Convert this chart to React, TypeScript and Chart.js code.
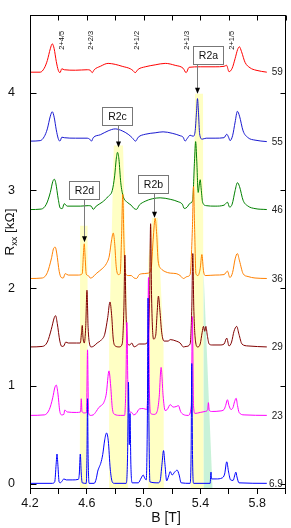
import React, { useEffect, useRef } from "react";
import { Chart, registerables } from "chart.js";

Chart.register(...registerables);

type P = [number, number];

// ---- axes ----
const xTicks = [4.2, 4.4, 4.6, 4.8, 5.0, 5.2, 5.4, 5.6, 5.8, 6.0];
const xLabels = [4.2, 4.6, 5.0, 5.4, 5.8];
const yTicks = [0, 1, 2, 3, 4];
const xMin = 4.2;
const xMax = 6.0;
const yMin = -0.053;
const yMax = 4.8;

// ---- series (B [T], Rxx [kOhm] incl. vertical offset) ----
const seriesNames = ["6.9", "23", "29", "36", "46", "55", "59"];
const seriesColors = ["#0000ff", "#ff00ff", "#800000", "#ff8000", "#008000", "#1a1ad0", "#ff0000"];

const trace59: P[] = [
  [4.2, 4.21], [4.272, 4.21], [4.3, 4.25], [4.322, 4.33], [4.343, 4.45], [4.357, 4.5], [4.37, 4.45],
  [4.385, 4.32], [4.399, 4.23], [4.411, 4.205], [4.424, 4.245], [4.441, 4.235], [4.52, 4.23],
  [4.603, 4.235], [4.624, 4.23], [4.638, 4.205], [4.652, 4.235], [4.695, 4.27], [4.75, 4.3],
  [4.8, 4.29], [4.849, 4.27], [4.906, 4.245], [4.926, 4.225], [4.94, 4.205], [4.962, 4.24],
  [5.011, 4.265], [5.081, 4.285], [5.152, 4.3], [5.222, 4.28], [5.278, 4.25], [5.299, 4.205],
  [5.32, 4.26], [5.398, 4.265], [5.503, 4.265], [5.566, 4.27], [5.584, 4.28], [5.601, 4.215],
  [5.623, 4.25], [5.644, 4.35], [5.661, 4.44], [5.674, 4.47], [5.689, 4.42], [5.714, 4.31],
  [5.749, 4.255], [5.791, 4.23], [5.867, 4.21],
];

const trace55: P[] = [
  [4.2, 3.505], [4.272, 3.51], [4.3, 3.55], [4.322, 3.63], [4.343, 3.76], [4.357, 3.805], [4.37, 3.75],
  [4.385, 3.62], [4.399, 3.53], [4.411, 3.505], [4.424, 3.545], [4.441, 3.54], [4.52, 3.535],
  [4.603, 3.535], [4.62, 3.525], [4.633, 3.505], [4.645, 3.54], [4.695, 3.57], [4.75, 3.61],
  [4.8, 3.63], [4.849, 3.61], [4.891, 3.575], [4.919, 3.54], [4.943, 3.505], [4.962, 3.545],
  [5.011, 3.575], [5.081, 3.59], [5.137, 3.6], [5.201, 3.585], [5.257, 3.56], [5.278, 3.545],
  [5.292, 3.505], [5.306, 3.53], [5.327, 3.565], [5.348, 3.555], [5.362, 3.6], [5.372, 3.8],
  [5.379, 3.94], [5.386, 3.8], [5.394, 3.58], [5.412, 3.525], [5.44, 3.535], [5.503, 3.535],
  [5.566, 3.54], [5.585, 3.575], [5.598, 3.545], [5.608, 3.51], [5.626, 3.56], [5.644, 3.7],
  [5.66, 3.81], [5.675, 3.76], [5.7, 3.61], [5.735, 3.54], [5.784, 3.515], [5.867, 3.5],
];

const trace46: P[] = [
  [4.2, 2.805], [4.279, 2.81], [4.315, 2.86], [4.343, 2.98], [4.36, 3.09], [4.371, 3.115], [4.381, 3.08],
  [4.399, 2.91], [4.413, 2.82], [4.427, 2.815], [4.441, 2.865], [4.462, 2.84], [4.554, 2.84],
  [4.61, 2.845], [4.631, 2.84], [4.645, 2.807], [4.666, 2.84], [4.708, 2.88], [4.751, 2.94],
  [4.779, 3.0], [4.796, 3.15], [4.807, 3.32], [4.816, 3.39], [4.826, 3.32], [4.839, 3.08],
  [4.856, 2.94], [4.884, 2.88], [4.912, 2.85], [4.933, 2.815], [4.95, 2.807], [4.969, 2.85],
  [5.011, 2.89], [5.06, 2.915], [5.116, 2.925], [5.187, 2.91], [5.243, 2.885], [5.272, 2.86],
  [5.287, 2.815], [5.306, 2.83], [5.327, 2.87], [5.345, 2.9], [5.358, 3.3], [5.366, 3.5],
  [5.374, 3.3], [5.384, 2.98], [5.391, 3.05], [5.398, 3.11], [5.406, 3.0], [5.415, 2.88],
  [5.44, 2.845], [5.503, 2.84], [5.566, 2.85], [5.59, 2.88], [5.605, 2.83], [5.623, 2.86],
  [5.644, 3.0], [5.66, 3.08], [5.675, 3.04], [5.7, 2.9], [5.735, 2.84], [5.784, 2.815], [5.867, 2.805],
];

const trace36: P[] = [
  [4.2, 2.1], [4.286, 2.105], [4.322, 2.16], [4.35, 2.3], [4.367, 2.41], [4.378, 2.42], [4.388, 2.36],
  [4.406, 2.17], [4.42, 2.11], [4.434, 2.105], [4.448, 2.15], [4.469, 2.135], [4.54, 2.135],
  [4.568, 2.15], [4.576, 2.35], [4.582, 2.455], [4.587, 2.35], [4.596, 2.145], [4.61, 2.13],
  [4.624, 2.105], [4.638, 2.11], [4.666, 2.15], [4.708, 2.2], [4.737, 2.25], [4.758, 2.33],
  [4.775, 2.5], [4.786, 2.565], [4.796, 2.46], [4.807, 2.22], [4.821, 2.14], [4.835, 2.15],
  [4.844, 2.5], [4.853, 2.96], [4.861, 2.5], [4.87, 2.16], [4.891, 2.13], [4.912, 2.13],
  [4.933, 2.105], [4.95, 2.1], [4.969, 2.14], [5.004, 2.15], [5.033, 2.155], [5.053, 2.2],
  [5.067, 2.5], [5.081, 2.715], [5.092, 2.55], [5.102, 2.28], [5.123, 2.2], [5.151, 2.17],
  [5.187, 2.155], [5.229, 2.15], [5.257, 2.13], [5.28, 2.1], [5.306, 2.12], [5.327, 2.14],
  [5.343, 2.6], [5.351, 3.04], [5.359, 2.6], [5.368, 2.15], [5.382, 2.13], [5.398, 2.2],
  [5.41, 2.345], [5.421, 2.18], [5.433, 2.13], [5.503, 2.135], [5.566, 2.14], [5.59, 2.175],
  [5.607, 2.11], [5.626, 2.16], [5.644, 2.3], [5.66, 2.355], [5.675, 2.28], [5.7, 2.15],
  [5.735, 2.12], [5.784, 2.105], [5.867, 2.1],
];

const trace29: P[] = [
  [4.2, 1.4], [4.286, 1.405], [4.322, 1.45], [4.35, 1.58], [4.371, 1.7], [4.38, 1.72], [4.392, 1.64],
  [4.41, 1.46], [4.424, 1.405], [4.438, 1.41], [4.452, 1.45], [4.469, 1.44], [4.526, 1.44],
  [4.554, 1.44], [4.563, 1.55], [4.568, 1.62], [4.573, 1.5], [4.582, 1.44], [4.592, 1.6],
  [4.601, 1.98], [4.609, 1.6], [4.621, 1.42], [4.631, 1.4], [4.645, 1.405], [4.673, 1.44],
  [4.701, 1.47], [4.726, 1.53], [4.747, 1.7], [4.763, 1.86], [4.775, 1.72], [4.786, 1.48],
  [4.8, 1.41], [4.828, 1.4], [4.849, 1.43], [4.861, 1.8], [4.868, 2.34], [4.875, 1.8],
  [4.888, 1.43], [4.902, 1.42], [4.916, 1.44], [4.933, 1.4], [4.948, 1.41], [4.969, 1.43],
  [5.004, 1.43], [5.028, 1.45], [5.042, 1.9], [5.049, 2.66], [5.056, 1.9], [5.07, 1.48],
  [5.085, 1.52], [5.095, 1.75], [5.104, 1.92], [5.114, 1.78], [5.127, 1.55], [5.144, 1.46],
  [5.173, 1.46], [5.187, 1.475], [5.229, 1.46], [5.257, 1.44], [5.28, 1.4], [5.299, 1.405],
  [5.327, 1.43], [5.339, 1.8], [5.346, 2.355], [5.353, 1.8], [5.365, 1.46], [5.38, 1.4],
  [5.398, 1.43], [5.412, 1.55], [5.421, 1.61], [5.43, 1.56], [5.438, 1.61], [5.448, 1.52],
  [5.461, 1.43], [5.482, 1.42], [5.538, 1.42], [5.566, 1.43], [5.585, 1.49], [5.601, 1.41],
  [5.619, 1.45], [5.636, 1.56], [5.655, 1.61], [5.671, 1.53], [5.692, 1.43], [5.735, 1.41],
  [5.867, 1.4],
];

const trace23: P[] = [
  [4.2, 0.7], [4.301, 0.705], [4.336, 0.76], [4.36, 0.88], [4.374, 0.98], [4.385, 1.01], [4.396, 0.93],
  [4.41, 0.74], [4.424, 0.705], [4.438, 0.71], [4.445, 0.755], [4.462, 0.735], [4.526, 0.73],
  [4.556, 0.735], [4.561, 0.87], [4.566, 0.74], [4.582, 0.725], [4.598, 0.73], [4.605, 1.37],
  [4.612, 0.73], [4.624, 0.7], [4.645, 0.705], [4.666, 0.74], [4.684, 0.78], [4.701, 0.8],
  [4.719, 0.83], [4.737, 0.92], [4.756, 1.155], [4.768, 1.0], [4.779, 0.78], [4.796, 0.71],
  [4.835, 0.7], [4.866, 0.7], [4.875, 1.0], [4.882, 1.65], [4.889, 1.0], [4.898, 0.75],
  [4.916, 0.73], [4.93, 0.705], [4.948, 0.72], [4.969, 0.765], [4.997, 0.77], [5.021, 0.76],
  [5.028, 0.9], [5.034, 2.11], [5.04, 1.0], [5.05, 0.72], [5.074, 0.71], [5.095, 0.74],
  [5.109, 0.88], [5.123, 1.19], [5.137, 0.9], [5.151, 0.75], [5.166, 0.76], [5.187, 0.81],
  [5.208, 0.785], [5.229, 0.79], [5.245, 0.8], [5.26, 0.74], [5.278, 0.71], [5.313, 0.7],
  [5.336, 0.8], [5.343, 1.71], [5.351, 0.8], [5.362, 0.72], [5.398, 0.73], [5.433, 0.74],
  [5.451, 0.76], [5.456, 0.83], [5.462, 0.75], [5.482, 0.74], [5.538, 0.745], [5.566, 0.76],
  [5.577, 0.8], [5.59, 0.86], [5.601, 0.8], [5.615, 0.76], [5.629, 0.78], [5.64, 0.84],
  [5.651, 0.875], [5.661, 0.8], [5.672, 0.73], [5.707, 0.705], [5.867, 0.7],
];

const trace69: P[] = [
  [4.2, 0.005], [4.357, 0.005], [4.374, 0.02], [4.384, 0.2], [4.39, 0.305], [4.396, 0.2], [4.405, 0.02],
  [4.413, 0.01], [4.427, 0.03], [4.438, 0.05], [4.455, 0.04], [4.497, 0.04], [4.54, 0.045],
  [4.547, 0.1], [4.554, 0.305], [4.561, 0.1], [4.568, 0.01], [4.596, 0.005], [4.601, 0.3],
  [4.605, 0.87], [4.609, 0.3], [4.616, 0.005], [4.652, 0.005], [4.666, 0.05], [4.677, 0.13],
  [4.687, 0.17], [4.698, 0.21], [4.712, 0.3], [4.726, 0.45], [4.739, 0.52], [4.751, 0.44],
  [4.765, 0.15], [4.779, 0.02], [4.793, 0.005], [4.877, 0.005], [4.887, 0.3], [4.893, 1.04],
  [4.899, 0.4], [4.904, 0.72], [4.91, 0.2], [4.919, 0.01], [4.962, 0.01], [4.983, 0.06],
  [4.997, 0.09], [5.007, 0.06], [5.018, 0.04], [5.027, 0.8], [5.031, 1.9], [5.036, 0.8],
  [5.044, 0.02], [5.102, 0.01], [5.116, 0.03], [5.129, 0.2], [5.14, 0.34], [5.15, 0.2],
  [5.162, 0.03], [5.176, 0.08], [5.187, 0.125], [5.201, 0.09], [5.218, 0.12], [5.236, 0.14],
  [5.25, 0.09], [5.264, 0.01], [5.327, 0.005], [5.334, 0.3], [5.339, 1.23], [5.344, 0.3],
  [5.352, 0.005], [5.468, 0.005], [5.474, 0.12], [5.478, 0.05], [5.51, 0.05], [5.552, 0.06],
  [5.57, 0.1], [5.585, 0.225], [5.598, 0.12], [5.612, 0.04], [5.63, 0.035], [5.64, 0.08],
  [5.649, 0.12], [5.657, 0.07], [5.671, 0.01], [5.867, 0.005],
];

const traces: P[][] = [trace69, trace23, trace29, trace36, trace46, trace55, trace59];

// ---- filling-factor labels ----
const nuLabels = ["2+4/5", "2+2/3", "2+1/2", "2+1/3", "2+1/5"];
const nuPositions = [4.423, 4.632, 4.956, 5.308, 5.62];
const nuLabelBaseR = 4.44;

// ---- shaded regions (polygons in data coords) ----
const yellowBands: P[][] = [
  [[4.553, 2.64], [4.605, 2.64], [4.605, -0.06], [4.551, -0.06]],
  [[4.79, 3.46], [4.855, 3.46], [4.889, 1.44], [4.889, -0.06], [4.757, -0.06], [4.757, 1.44]],
  [[5.06, 2.72], [5.1, 2.72], [5.14, 1.4], [5.142, -0.06], [5.033, -0.06], [5.033, 2.3]],
  [[5.362, 3.99], [5.418, 3.99], [5.421, -0.06], [5.33, -0.06]],
];
const greenBands: P[][] = [[[5.421, 2.2], [5.485, -0.06], [5.421, -0.06]]];

// ---- boxed annotations ----
const boxTexts = ["R2a", "R2b", "R2c", "R2d"];
const boxCenters: P[] = [[5.454, 4.39], [5.068, 3.065], [4.809, 3.757], [4.577, 3.002]];
const arrowX = [5.374, 5.074, 4.816, 4.582];
const arrowTipR = [3.99, 2.72, 3.44, 2.47];

const FONT = "'Liberation Sans', Arial, Helvetica, sans-serif";

export default function App() {
  const ref = useRef<HTMLCanvasElement | null>(null);

  useEffect(() => {
    const canvas = ref.current;
    if (!canvas) return;

    const decor = {
      id: "decor",
      beforeDatasetsDraw(chart: any) {
        const { ctx, chartArea: a, scales } = chart;
        const xs = scales.x, ys = scales.y;
        ctx.save();
        ctx.beginPath();
        ctx.rect(a.left, a.top, a.right - a.left, a.bottom - a.top);
        ctx.clip();
        const fillPoly = (poly: P[], color: string) => {
          ctx.beginPath();
          poly.forEach(([b, r], i) => {
            const px = xs.getPixelForValue(b), py = ys.getPixelForValue(r);
            if (i === 0) ctx.moveTo(px, py); else ctx.lineTo(px, py);
          });
          ctx.closePath();
          ctx.fillStyle = color;
          ctx.fill();
        };
        greenBands.forEach((p) => fillPoly(p, "#c8f2d8"));
        yellowBands.forEach((p) => fillPoly(p, "#ffffc4"));
        ctx.restore();
      },
      afterDatasetsDraw(chart: any) {
        const { ctx, chartArea: a, scales } = chart;
        const xs = scales.x, ys = scales.y;
        ctx.save();
        // series labels
        ctx.font = `10px ${FONT}`;
        ctx.fillStyle = "#222";
        ctx.textAlign = "right";
        ctx.textBaseline = "middle";
        traces.forEach((t, i) => {
          const last = t[t.length - 1];
          ctx.fillText(seriesNames[i], xs.getPixelForValue(5.98), ys.getPixelForValue(last[1]) + 0.5);
        });
        // rotated filling factor labels
        ctx.font = `7.5px ${FONT}`;
        ctx.fillStyle = "#111";
        nuLabels.forEach((txt, i) => {
          ctx.save();
          ctx.translate(xs.getPixelForValue(nuPositions[i]), ys.getPixelForValue(nuLabelBaseR));
          ctx.rotate(-Math.PI / 2);
          ctx.textAlign = "left";
          ctx.textBaseline = "middle";
          ctx.fillText(txt, 0, 0);
          ctx.restore();
        });
        // boxes with arrows
        const bw = 30, bh = 18;
        boxTexts.forEach((txt, i) => {
          const cx = xs.getPixelForValue(boxCenters[i][0]);
          const cy = ys.getPixelForValue(boxCenters[i][1]);
          const ax = Math.round(xs.getPixelForValue(arrowX[i])) + 0.5;
          const ty = ys.getPixelForValue(arrowTipR[i]);
          const boxBottom = cy + bh / 2;
          ctx.strokeStyle = "#7a7a7a";
          ctx.lineWidth = 1;
          ctx.beginPath();
          ctx.moveTo(ax, boxBottom);
          ctx.lineTo(ax, ty - 5);
          ctx.stroke();
          ctx.fillStyle = "#000";
          ctx.beginPath();
          ctx.moveTo(ax - 2.5, ty - 6);
          ctx.lineTo(ax + 2.5, ty - 6);
          ctx.lineTo(ax, ty);
          ctx.closePath();
          ctx.fill();
          const bx = Math.round(cx - bw / 2) + 0.5, by = Math.round(cy - bh / 2) + 0.5;
          ctx.fillStyle = "#fff";
          ctx.fillRect(bx, by, bw, bh);
          ctx.strokeStyle = "#777";
          ctx.strokeRect(bx, by, bw, bh);
          ctx.fillStyle = "#111";
          ctx.font = `10.5px ${FONT}`;
          ctx.textAlign = "center";
          ctx.textBaseline = "middle";
          ctx.fillText(txt, bx + bw / 2, by + bh / 2 + 0.5);
        });
        ctx.restore();
      },
      afterDraw(chart: any) {
        const { ctx, chartArea: a, scales } = chart;
        const xs = scales.x, ys = scales.y;
        ctx.save();
        ctx.strokeStyle = "#000";
        ctx.lineWidth = 1;
        const L = Math.round(a.left) + 0.5, R = Math.round(a.right) - 0.5;
        const T = Math.round(a.top) + 0.5, B = Math.round(a.bottom) - 0.5;
        ctx.strokeRect(L, T, R - L, B - T);
        ctx.beginPath();
        xTicks.forEach((v) => {
          const px = Math.round(xs.getPixelForValue(v)) + 0.5;
          ctx.moveTo(px, T);
          ctx.lineTo(px, T + 5);
        });
        yTicks.forEach((v) => {
          const py = Math.round(ys.getPixelForValue(v)) + 0.5;
          ctx.moveTo(L, py);
          ctx.lineTo(L + 6, py);
          ctx.moveTo(R, py);
          ctx.lineTo(R - 5, py);
        });
        ctx.stroke();
        // axis titles
        ctx.fillStyle = "#111";
        ctx.font = `14px ${FONT}`;
        ctx.textAlign = "center";
        ctx.textBaseline = "middle";
        ctx.fillText("B [T]", 166, 518);
        // y title with subscript
        ctx.save();
        ctx.translate(9, 232);
        ctx.rotate(-Math.PI / 2);
        const big = `13.5px ${FONT}`, small = `9px ${FONT}`;
        ctx.font = big;
        const wR = ctx.measureText("R").width;
        const wRest = ctx.measureText(" [kΩ]").width;
        ctx.font = small;
        const wSub = ctx.measureText("xx").width;
        const total = wR + wSub + wRest;
        let x0 = -total / 2;
        ctx.textAlign = "left";
        ctx.textBaseline = "alphabetic";
        ctx.font = big;
        ctx.fillText("R", x0, 5);
        x0 += wR;
        ctx.font = small;
        ctx.fillText("xx", x0, 8);
        x0 += wSub;
        ctx.font = big;
        ctx.fillText(" [kΩ]", x0, 5);
        ctx.restore();
        ctx.restore();
      },
    };

    const chart = new Chart(canvas, {
      type: "line",
      data: {
        datasets: traces.map((t, i) => ({
          label: seriesNames[i],
          data: t.map(([x, y]) => ({ x, y })),
          borderColor: seriesColors[i],
          borderWidth: 1,
          pointRadius: 0,
          fill: false,
          cubicInterpolationMode: "monotone" as const,
        })),
      },
      options: {
        animation: false,
        responsive: false,
        devicePixelRatio: 1,
        layout: { padding: { left: 0, right: 5.3, top: 4, bottom: 0 } },
        plugins: { legend: { display: false }, tooltip: { enabled: false } },
        scales: {
          x: {
            type: "linear",
            min: xMin,
            max: xMax,
            afterBuildTicks: (s: any) => {
              s.ticks = xTicks.map((v) => ({ value: v }));
            },
            afterFit: (s: any) => {
              s.height = 39;
            },
            ticks: {
              autoSkip: false,
              maxRotation: 0,
              padding: 2,
              color: "#111",
              font: { family: FONT, size: 12.5 },
              callback: (v: any) => {
                const n = Number(v);
                return xLabels.some((l) => Math.abs(l - n) < 1e-6) ? n.toFixed(1) : "";
              },
            },
            grid: { display: true, drawOnChartArea: false, drawTicks: true, tickLength: 5, color: "#000", lineWidth: 1 },
            border: { display: false },
          },
          y: {
            type: "linear",
            min: yMin,
            max: yMax,
            afterBuildTicks: (s: any) => {
              s.ticks = yTicks.map((v) => ({ value: v }));
            },
            afterFit: (s: any) => {
              s.width = 30;
            },
            ticks: {
              padding: 7,
              color: "#111",
              font: { family: FONT, size: 12.5 },
              callback: (v: any) => String(Number(v)),
            },
            grid: { display: false },
            border: { display: false },
          },
        },
      },
      plugins: [decor],
    } as any);

    return () => chart.destroy();
  }, []);

  return (
    <div style={{ position: "absolute", left: 0, top: 0, width: 291, height: 528, background: "#fff" }}>
      <canvas ref={ref} width={291} height={528} style={{ display: "block", width: 291, height: 528 }} />
    </div>
  );
}
